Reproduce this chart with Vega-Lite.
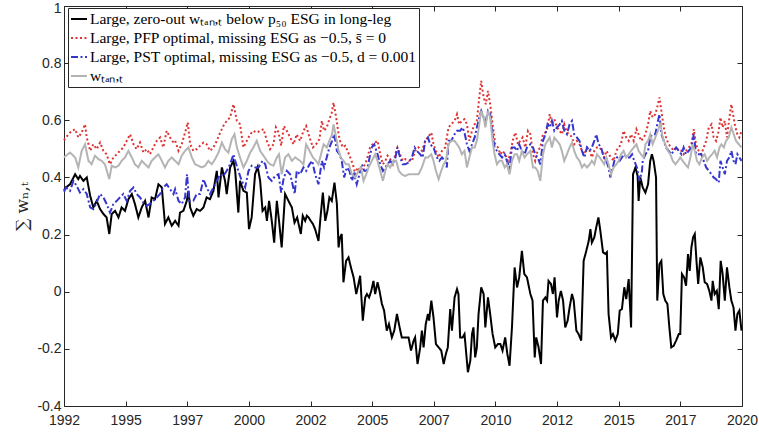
{
"$schema":"https://vega.github.io/schema/vega-lite/v6.json",
"width":678,"height":400,
"autosize":{"type":"none"},
"padding":{"left":64,"top":6,"right":17,"bottom":27},
"config":{"view":{"stroke":null},
"axis":{"domainColor":"#262626","tickColor":"#262626","labelColor":"#262626","labelFont":"Liberation Sans","labelFontSize":14,"grid":false,"tickSize":-5,"labelFlush":false,"labelOverlap":false},
"legend":{"orient":"none","legendX":4,"legendY":2,"title":null,"padding":2,"strokeColor":"#262626","fillColor":"white","symbolType":"stroke","symbolSize":256,"symbolStrokeWidth":2,"labelFont":"Liberation Serif","labelFontSize":15.5,"labelColor":"#000000","labelOffset":2,"rowPadding":1,"labelLimit":0}},
"data":{"values":[
{"s":"k","t":1992.00,"v":0.355},{"s":"k","t":1992.08,"v":0.365},{"s":"k","t":1992.25,"v":0.376},{"s":"k","t":1992.46,"v":0.411},{"s":"k","t":1992.59,"v":0.394},{"s":"k","t":1992.66,"v":0.405},{"s":"k","t":1992.80,"v":0.388},{"s":"k","t":1992.94,"v":0.400},{"s":"k","t":1993.08,"v":0.336},{"s":"k","t":1993.21,"v":0.295},{"s":"k","t":1993.35,"v":0.318},{"s":"k","t":1993.49,"v":0.289},{"s":"k","t":1993.63,"v":0.272},{"s":"k","t":1993.76,"v":0.260},{"s":"k","t":1993.87,"v":0.202},{"s":"k","t":1993.97,"v":0.272},{"s":"k","t":1994.11,"v":0.283},{"s":"k","t":1994.25,"v":0.260},{"s":"k","t":1994.38,"v":0.295},{"s":"k","t":1994.52,"v":0.283},{"s":"k","t":1994.66,"v":0.324},{"s":"k","t":1994.80,"v":0.342},{"s":"k","t":1994.93,"v":0.307},{"s":"k","t":1995.07,"v":0.260},{"s":"k","t":1995.21,"v":0.295},{"s":"k","t":1995.35,"v":0.318},{"s":"k","t":1995.49,"v":0.260},{"s":"k","t":1995.62,"v":0.330},{"s":"k","t":1995.76,"v":0.324},{"s":"k","t":1995.90,"v":0.376},{"s":"k","t":1996.04,"v":0.365},{"s":"k","t":1996.17,"v":0.237},{"s":"k","t":1996.31,"v":0.260},{"s":"k","t":1996.45,"v":0.231},{"s":"k","t":1996.59,"v":0.248},{"s":"k","t":1996.73,"v":0.231},{"s":"k","t":1996.79,"v":0.277},{"s":"k","t":1996.93,"v":0.283},{"s":"k","t":1997.07,"v":0.318},{"s":"k","t":1997.14,"v":0.353},{"s":"k","t":1997.21,"v":0.295},{"s":"k","t":1997.34,"v":0.266},{"s":"k","t":1997.48,"v":0.289},{"s":"k","t":1997.62,"v":0.283},{"s":"k","t":1997.76,"v":0.295},{"s":"k","t":1997.89,"v":0.330},{"s":"k","t":1998.03,"v":0.324},{"s":"k","t":1998.17,"v":0.353},{"s":"k","t":1998.31,"v":0.423},{"s":"k","t":1998.38,"v":0.330},{"s":"k","t":1998.52,"v":0.435},{"s":"k","t":1998.65,"v":0.388},{"s":"k","t":1998.72,"v":0.342},{"s":"k","t":1998.86,"v":0.435},{"s":"k","t":1999.00,"v":0.458},{"s":"k","t":1999.07,"v":0.423},{"s":"k","t":1999.20,"v":0.277},{"s":"k","t":1999.27,"v":0.388},{"s":"k","t":1999.41,"v":0.353},{"s":"k","t":1999.55,"v":0.347},{"s":"k","t":1999.64,"v":0.219},{"s":"k","t":1999.75,"v":0.260},{"s":"k","t":1999.89,"v":0.411},{"s":"k","t":2000.00,"v":0.437},{"s":"k","t":2000.10,"v":0.388},{"s":"k","t":2000.20,"v":0.283},{"s":"k","t":2000.31,"v":0.295},{"s":"k","t":2000.38,"v":0.248},{"s":"k","t":2000.47,"v":0.318},{"s":"k","t":2000.58,"v":0.248},{"s":"k","t":2000.68,"v":0.172},{"s":"k","t":2000.79,"v":0.318},{"s":"k","t":2000.88,"v":0.248},{"s":"k","t":2000.99,"v":0.155},{"s":"k","t":2001.13,"v":0.342},{"s":"k","t":2001.27,"v":0.318},{"s":"k","t":2001.41,"v":0.295},{"s":"k","t":2001.52,"v":0.242},{"s":"k","t":2001.63,"v":0.260},{"s":"k","t":2001.78,"v":0.202},{"s":"k","t":2001.86,"v":0.266},{"s":"k","t":2001.96,"v":0.248},{"s":"k","t":2002.03,"v":0.266},{"s":"k","t":2002.10,"v":0.260},{"s":"k","t":2002.19,"v":0.248},{"s":"k","t":2002.28,"v":0.237},{"s":"k","t":2002.37,"v":0.219},{"s":"k","t":2002.51,"v":0.178},{"s":"k","t":2002.58,"v":0.248},{"s":"k","t":2002.69,"v":0.347},{"s":"k","t":2002.79,"v":0.248},{"s":"k","t":2002.88,"v":0.283},{"s":"k","t":2002.96,"v":0.330},{"s":"k","t":2003.06,"v":0.318},{"s":"k","t":2003.17,"v":0.382},{"s":"k","t":2003.27,"v":0.307},{"s":"k","t":2003.34,"v":0.155},{"s":"k","t":2003.40,"v":0.190},{"s":"k","t":2003.47,"v":0.202},{"s":"k","t":2003.54,"v":0.033},{"s":"k","t":2003.65,"v":0.108},{"s":"k","t":2003.75,"v":0.120},{"s":"k","t":2003.85,"v":0.085},{"s":"k","t":2003.96,"v":0.050},{"s":"k","t":2004.07,"v":-0.008},{"s":"k","t":2004.16,"v":0.027},{"s":"k","t":2004.23,"v":0.056},{"s":"k","t":2004.34,"v":-0.101},{"s":"k","t":2004.44,"v":-0.020},{"s":"k","t":2004.51,"v":-0.008},{"s":"k","t":2004.60,"v":-0.020},{"s":"k","t":2004.69,"v":0.003},{"s":"k","t":2004.78,"v":0.038},{"s":"k","t":2004.85,"v":-0.008},{"s":"k","t":2004.95,"v":0.033},{"s":"k","t":2005.03,"v":0.003},{"s":"k","t":2005.13,"v":-0.043},{"s":"k","t":2005.22,"v":-0.066},{"s":"k","t":2005.33,"v":-0.136},{"s":"k","t":2005.42,"v":-0.113},{"s":"k","t":2005.54,"v":-0.160},{"s":"k","t":2005.64,"v":-0.136},{"s":"k","t":2005.75,"v":-0.078},{"s":"k","t":2005.86,"v":-0.125},{"s":"k","t":2005.95,"v":-0.160},{"s":"k","t":2006.09,"v":-0.160},{"s":"k","t":2006.23,"v":-0.160},{"s":"k","t":2006.33,"v":-0.206},{"s":"k","t":2006.44,"v":-0.171},{"s":"k","t":2006.50,"v":-0.160},{"s":"k","t":2006.60,"v":-0.253},{"s":"k","t":2006.71,"v":-0.195},{"s":"k","t":2006.78,"v":-0.136},{"s":"k","t":2006.85,"v":-0.195},{"s":"k","t":2006.94,"v":-0.113},{"s":"k","t":2007.03,"v":-0.078},{"s":"k","t":2007.08,"v":-0.101},{"s":"k","t":2007.17,"v":-0.031},{"s":"k","t":2007.26,"v":-0.090},{"s":"k","t":2007.36,"v":-0.183},{"s":"k","t":2007.47,"v":-0.195},{"s":"k","t":2007.58,"v":-0.206},{"s":"k","t":2007.68,"v":-0.253},{"s":"k","t":2007.77,"v":-0.218},{"s":"k","t":2007.85,"v":-0.195},{"s":"k","t":2007.95,"v":-0.061},{"s":"k","t":2008.02,"v":-0.136},{"s":"k","t":2008.13,"v":-0.020},{"s":"k","t":2008.23,"v":0.009},{"s":"k","t":2008.29,"v":-0.008},{"s":"k","t":2008.36,"v":-0.160},{"s":"k","t":2008.46,"v":-0.160},{"s":"k","t":2008.54,"v":-0.148},{"s":"k","t":2008.68,"v":-0.282},{"s":"k","t":2008.78,"v":-0.241},{"s":"k","t":2008.85,"v":-0.148},{"s":"k","t":2008.91,"v":-0.125},{"s":"k","t":2008.98,"v":-0.230},{"s":"k","t":2009.05,"v":-0.195},{"s":"k","t":2009.12,"v":-0.078},{"s":"k","t":2009.23,"v":0.015},{"s":"k","t":2009.33,"v":-0.008},{"s":"k","t":2009.40,"v":-0.125},{"s":"k","t":2009.51,"v":-0.020},{"s":"k","t":2009.60,"v":-0.078},{"s":"k","t":2009.70,"v":-0.148},{"s":"k","t":2009.81,"v":-0.195},{"s":"k","t":2009.92,"v":-0.183},{"s":"k","t":2010.02,"v":-0.183},{"s":"k","t":2010.11,"v":-0.206},{"s":"k","t":2010.22,"v":-0.160},{"s":"k","t":2010.31,"v":-0.218},{"s":"k","t":2010.40,"v":-0.259},{"s":"k","t":2010.50,"v":-0.125},{"s":"k","t":2010.61,"v":0.085},{"s":"k","t":2010.71,"v":0.015},{"s":"k","t":2010.80,"v":0.050},{"s":"k","t":2010.91,"v":0.143},{"s":"k","t":2011.01,"v":0.062},{"s":"k","t":2011.12,"v":0.050},{"s":"k","t":2011.26,"v":-0.008},{"s":"k","t":2011.35,"v":-0.031},{"s":"k","t":2011.44,"v":-0.230},{"s":"k","t":2011.50,"v":-0.160},{"s":"k","t":2011.60,"v":-0.195},{"s":"k","t":2011.70,"v":-0.253},{"s":"k","t":2011.78,"v":-0.031},{"s":"k","t":2011.88,"v":-0.020},{"s":"k","t":2011.95,"v":-0.031},{"s":"k","t":2012.01,"v":0.038},{"s":"k","t":2012.11,"v":0.027},{"s":"k","t":2012.19,"v":-0.008},{"s":"k","t":2012.26,"v":0.050},{"s":"k","t":2012.36,"v":-0.090},{"s":"k","t":2012.43,"v":-0.031},{"s":"k","t":2012.52,"v":0.003},{"s":"k","t":2012.61,"v":-0.031},{"s":"k","t":2012.70,"v":-0.125},{"s":"k","t":2012.80,"v":-0.101},{"s":"k","t":2012.88,"v":-0.055},{"s":"k","t":2012.98,"v":-0.008},{"s":"k","t":2013.05,"v":-0.031},{"s":"k","t":2013.16,"v":-0.136},{"s":"k","t":2013.25,"v":-0.148},{"s":"k","t":2013.36,"v":-0.171},{"s":"k","t":2013.46,"v":0.108},{"s":"k","t":2013.57,"v":0.143},{"s":"k","t":2013.67,"v":0.178},{"s":"k","t":2013.74,"v":0.219},{"s":"k","t":2013.80,"v":0.172},{"s":"k","t":2013.90,"v":0.190},{"s":"k","t":2013.98,"v":0.225},{"s":"k","t":2014.07,"v":0.260},{"s":"k","t":2014.15,"v":0.213},{"s":"k","t":2014.26,"v":0.138},{"s":"k","t":2014.36,"v":0.132},{"s":"k","t":2014.42,"v":0.138},{"s":"k","t":2014.49,"v":-0.078},{"s":"k","t":2014.59,"v":-0.160},{"s":"k","t":2014.67,"v":-0.148},{"s":"k","t":2014.77,"v":-0.171},{"s":"k","t":2014.87,"v":-0.148},{"s":"k","t":2014.95,"v":-0.066},{"s":"k","t":2015.04,"v":-0.061},{"s":"k","t":2015.14,"v":0.015},{"s":"k","t":2015.22,"v":-0.026},{"s":"k","t":2015.32,"v":0.044},{"s":"k","t":2015.42,"v":-0.125},{"s":"k","t":2015.50,"v":0.411},{"s":"k","t":2015.60,"v":0.435},{"s":"k","t":2015.69,"v":0.405},{"s":"k","t":2015.73,"v":0.318},{"s":"k","t":2015.80,"v":0.400},{"s":"k","t":2015.90,"v":0.365},{"s":"k","t":2016.01,"v":0.347},{"s":"k","t":2016.12,"v":0.376},{"s":"k","t":2016.21,"v":0.458},{"s":"k","t":2016.28,"v":0.481},{"s":"k","t":2016.35,"v":0.458},{"s":"k","t":2016.45,"v":0.400},{"s":"k","t":2016.50,"v":-0.031},{"s":"k","t":2016.59,"v":0.097},{"s":"k","t":2016.67,"v":0.108},{"s":"k","t":2016.75,"v":-0.008},{"s":"k","t":2016.83,"v":-0.031},{"s":"k","t":2016.92,"v":-0.043},{"s":"k","t":2017.00,"v":-0.125},{"s":"k","t":2017.08,"v":-0.195},{"s":"k","t":2017.18,"v":-0.189},{"s":"k","t":2017.28,"v":-0.171},{"s":"k","t":2017.39,"v":-0.148},{"s":"k","t":2017.45,"v":-0.148},{"s":"k","t":2017.52,"v":0.062},{"s":"k","t":2017.61,"v":0.050},{"s":"k","t":2017.69,"v":0.021},{"s":"k","t":2017.77,"v":0.132},{"s":"k","t":2017.84,"v":0.073},{"s":"k","t":2017.91,"v":0.155},{"s":"k","t":2017.98,"v":0.190},{"s":"k","t":2018.05,"v":0.202},{"s":"k","t":2018.12,"v":0.108},{"s":"k","t":2018.19,"v":0.027},{"s":"k","t":2018.28,"v":0.120},{"s":"k","t":2018.38,"v":0.085},{"s":"k","t":2018.46,"v":0.033},{"s":"k","t":2018.56,"v":0.027},{"s":"k","t":2018.65,"v":0.003},{"s":"k","t":2018.74,"v":-0.031},{"s":"k","t":2018.79,"v":0.038},{"s":"k","t":2018.87,"v":-0.008},{"s":"k","t":2018.96,"v":0.003},{"s":"k","t":2019.04,"v":-0.061},{"s":"k","t":2019.12,"v":0.108},{"s":"k","t":2019.20,"v":0.062},{"s":"k","t":2019.29,"v":-0.031},{"s":"k","t":2019.38,"v":0.085},{"s":"k","t":2019.48,"v":0.015},{"s":"k","t":2019.56,"v":-0.031},{"s":"k","t":2019.65,"v":-0.055},{"s":"k","t":2019.73,"v":-0.136},{"s":"k","t":2019.81,"v":-0.078},{"s":"k","t":2019.89,"v":-0.066},{"s":"k","t":2019.98,"v":-0.136},
{"s":"r","t":1992.00,"v":0.530},{"s":"r","t":1992.08,"v":0.540},{"s":"r","t":1992.25,"v":0.557},{"s":"r","t":1992.46,"v":0.569},{"s":"r","t":1992.59,"v":0.540},{"s":"r","t":1992.73,"v":0.557},{"s":"r","t":1992.87,"v":0.586},{"s":"r","t":1992.94,"v":0.540},{"s":"r","t":1993.08,"v":0.493},{"s":"r","t":1993.21,"v":0.516},{"s":"r","t":1993.35,"v":0.499},{"s":"r","t":1993.49,"v":0.522},{"s":"r","t":1993.63,"v":0.493},{"s":"r","t":1993.76,"v":0.481},{"s":"r","t":1993.90,"v":0.446},{"s":"r","t":1994.04,"v":0.470},{"s":"r","t":1994.18,"v":0.481},{"s":"r","t":1994.31,"v":0.493},{"s":"r","t":1994.45,"v":0.505},{"s":"r","t":1994.59,"v":0.528},{"s":"r","t":1994.73,"v":0.551},{"s":"r","t":1994.87,"v":0.516},{"s":"r","t":1995.00,"v":0.499},{"s":"r","t":1995.14,"v":0.522},{"s":"r","t":1995.28,"v":0.487},{"s":"r","t":1995.42,"v":0.499},{"s":"r","t":1995.55,"v":0.481},{"s":"r","t":1995.69,"v":0.505},{"s":"r","t":1995.83,"v":0.528},{"s":"r","t":1995.97,"v":0.540},{"s":"r","t":1996.10,"v":0.505},{"s":"r","t":1996.24,"v":0.563},{"s":"r","t":1996.38,"v":0.540},{"s":"r","t":1996.52,"v":0.522},{"s":"r","t":1996.59,"v":0.528},{"s":"r","t":1996.73,"v":0.493},{"s":"r","t":1996.86,"v":0.516},{"s":"r","t":1997.00,"v":0.557},{"s":"r","t":1997.11,"v":0.592},{"s":"r","t":1997.21,"v":0.516},{"s":"r","t":1997.34,"v":0.493},{"s":"r","t":1997.48,"v":0.499},{"s":"r","t":1997.62,"v":0.511},{"s":"r","t":1997.76,"v":0.522},{"s":"r","t":1997.89,"v":0.516},{"s":"r","t":1998.03,"v":0.493},{"s":"r","t":1998.17,"v":0.505},{"s":"r","t":1998.31,"v":0.528},{"s":"r","t":1998.45,"v":0.557},{"s":"r","t":1998.58,"v":0.580},{"s":"r","t":1998.72,"v":0.598},{"s":"r","t":1998.86,"v":0.610},{"s":"r","t":1999.00,"v":0.656},{"s":"r","t":1999.14,"v":0.598},{"s":"r","t":1999.27,"v":0.586},{"s":"r","t":1999.41,"v":0.505},{"s":"r","t":1999.55,"v":0.528},{"s":"r","t":1999.69,"v":0.551},{"s":"r","t":1999.82,"v":0.563},{"s":"r","t":1999.96,"v":0.557},{"s":"r","t":2000.10,"v":0.563},{"s":"r","t":2000.24,"v":0.569},{"s":"r","t":2000.38,"v":0.528},{"s":"r","t":2000.51,"v":0.499},{"s":"r","t":2000.65,"v":0.516},{"s":"r","t":2000.75,"v":0.575},{"s":"r","t":2000.86,"v":0.557},{"s":"r","t":2000.97,"v":0.511},{"s":"r","t":2001.08,"v":0.580},{"s":"r","t":2001.20,"v":0.563},{"s":"r","t":2001.34,"v":0.540},{"s":"r","t":2001.48,"v":0.516},{"s":"r","t":2001.61,"v":0.551},{"s":"r","t":2001.75,"v":0.528},{"s":"r","t":2001.89,"v":0.563},{"s":"r","t":2002.00,"v":0.580},{"s":"r","t":2002.14,"v":0.540},{"s":"r","t":2002.28,"v":0.505},{"s":"r","t":2002.41,"v":0.516},{"s":"r","t":2002.55,"v":0.534},{"s":"r","t":2002.65,"v":0.598},{"s":"r","t":2002.74,"v":0.563},{"s":"r","t":2002.85,"v":0.575},{"s":"r","t":2002.96,"v":0.604},{"s":"r","t":2003.06,"v":0.627},{"s":"r","t":2003.13,"v":0.662},{"s":"r","t":2003.24,"v":0.610},{"s":"r","t":2003.34,"v":0.551},{"s":"r","t":2003.40,"v":0.528},{"s":"r","t":2003.52,"v":0.505},{"s":"r","t":2003.61,"v":0.511},{"s":"r","t":2003.71,"v":0.493},{"s":"r","t":2003.82,"v":0.470},{"s":"r","t":2003.93,"v":0.446},{"s":"r","t":2004.03,"v":0.411},{"s":"r","t":2004.12,"v":0.435},{"s":"r","t":2004.23,"v":0.423},{"s":"r","t":2004.34,"v":0.435},{"s":"r","t":2004.44,"v":0.446},{"s":"r","t":2004.53,"v":0.470},{"s":"r","t":2004.64,"v":0.505},{"s":"r","t":2004.75,"v":0.516},{"s":"r","t":2004.85,"v":0.522},{"s":"r","t":2004.95,"v":0.528},{"s":"r","t":2005.06,"v":0.481},{"s":"r","t":2005.17,"v":0.446},{"s":"r","t":2005.27,"v":0.458},{"s":"r","t":2005.36,"v":0.476},{"s":"r","t":2005.47,"v":0.464},{"s":"r","t":2005.58,"v":0.446},{"s":"r","t":2005.68,"v":0.481},{"s":"r","t":2005.77,"v":0.505},{"s":"r","t":2005.88,"v":0.481},{"s":"r","t":2005.99,"v":0.458},{"s":"r","t":2006.09,"v":0.464},{"s":"r","t":2006.23,"v":0.458},{"s":"r","t":2006.37,"v":0.458},{"s":"r","t":2006.50,"v":0.493},{"s":"r","t":2006.64,"v":0.505},{"s":"r","t":2006.78,"v":0.493},{"s":"r","t":2006.92,"v":0.528},{"s":"r","t":2007.03,"v":0.540},{"s":"r","t":2007.17,"v":0.557},{"s":"r","t":2007.26,"v":0.516},{"s":"r","t":2007.36,"v":0.493},{"s":"r","t":2007.47,"v":0.470},{"s":"r","t":2007.61,"v":0.493},{"s":"r","t":2007.74,"v":0.505},{"s":"r","t":2007.88,"v":0.575},{"s":"r","t":2007.99,"v":0.586},{"s":"r","t":2008.13,"v":0.598},{"s":"r","t":2008.23,"v":0.621},{"s":"r","t":2008.32,"v":0.586},{"s":"r","t":2008.43,"v":0.598},{"s":"r","t":2008.54,"v":0.604},{"s":"r","t":2008.64,"v":0.586},{"s":"r","t":2008.74,"v":0.528},{"s":"r","t":2008.85,"v":0.563},{"s":"r","t":2008.96,"v":0.586},{"s":"r","t":2009.05,"v":0.598},{"s":"r","t":2009.15,"v":0.680},{"s":"r","t":2009.23,"v":0.738},{"s":"r","t":2009.33,"v":0.680},{"s":"r","t":2009.42,"v":0.656},{"s":"r","t":2009.51,"v":0.703},{"s":"r","t":2009.60,"v":0.656},{"s":"r","t":2009.70,"v":0.586},{"s":"r","t":2009.81,"v":0.516},{"s":"r","t":2009.92,"v":0.505},{"s":"r","t":2010.02,"v":0.481},{"s":"r","t":2010.11,"v":0.493},{"s":"r","t":2010.22,"v":0.481},{"s":"r","t":2010.33,"v":0.458},{"s":"r","t":2010.43,"v":0.481},{"s":"r","t":2010.53,"v":0.528},{"s":"r","t":2010.64,"v":0.557},{"s":"r","t":2010.75,"v":0.516},{"s":"r","t":2010.84,"v":0.528},{"s":"r","t":2010.94,"v":0.540},{"s":"r","t":2011.05,"v":0.505},{"s":"r","t":2011.16,"v":0.563},{"s":"r","t":2011.26,"v":0.551},{"s":"r","t":2011.37,"v":0.481},{"s":"r","t":2011.46,"v":0.458},{"s":"r","t":2011.56,"v":0.493},{"s":"r","t":2011.67,"v":0.505},{"s":"r","t":2011.78,"v":0.551},{"s":"r","t":2011.88,"v":0.557},{"s":"r","t":2011.97,"v":0.575},{"s":"r","t":2012.06,"v":0.621},{"s":"r","t":2012.15,"v":0.586},{"s":"r","t":2012.25,"v":0.604},{"s":"r","t":2012.36,"v":0.575},{"s":"r","t":2012.47,"v":0.563},{"s":"r","t":2012.56,"v":0.551},{"s":"r","t":2012.66,"v":0.586},{"s":"r","t":2012.77,"v":0.557},{"s":"r","t":2012.88,"v":0.551},{"s":"r","t":2012.98,"v":0.540},{"s":"r","t":2013.07,"v":0.516},{"s":"r","t":2013.18,"v":0.528},{"s":"r","t":2013.29,"v":0.516},{"s":"r","t":2013.39,"v":0.493},{"s":"r","t":2013.49,"v":0.481},{"s":"r","t":2013.60,"v":0.505},{"s":"r","t":2013.71,"v":0.493},{"s":"r","t":2013.80,"v":0.470},{"s":"r","t":2013.90,"v":0.493},{"s":"r","t":2014.01,"v":0.505},{"s":"r","t":2014.12,"v":0.505},{"s":"r","t":2014.22,"v":0.493},{"s":"r","t":2014.31,"v":0.470},{"s":"r","t":2014.40,"v":0.493},{"s":"r","t":2014.49,"v":0.481},{"s":"r","t":2014.59,"v":0.470},{"s":"r","t":2014.70,"v":0.458},{"s":"r","t":2014.81,"v":0.493},{"s":"r","t":2014.91,"v":0.505},{"s":"r","t":2015.00,"v":0.516},{"s":"r","t":2015.11,"v":0.563},{"s":"r","t":2015.22,"v":0.540},{"s":"r","t":2015.32,"v":0.528},{"s":"r","t":2015.42,"v":0.551},{"s":"r","t":2015.53,"v":0.528},{"s":"r","t":2015.64,"v":0.569},{"s":"r","t":2015.73,"v":0.551},{"s":"r","t":2015.83,"v":0.528},{"s":"r","t":2015.94,"v":0.540},{"s":"r","t":2016.01,"v":0.551},{"s":"r","t":2016.12,"v":0.586},{"s":"r","t":2016.21,"v":0.633},{"s":"r","t":2016.31,"v":0.610},{"s":"r","t":2016.42,"v":0.621},{"s":"r","t":2016.53,"v":0.656},{"s":"r","t":2016.59,"v":0.680},{"s":"r","t":2016.67,"v":0.633},{"s":"r","t":2016.77,"v":0.575},{"s":"r","t":2016.86,"v":0.540},{"s":"r","t":2016.97,"v":0.516},{"s":"r","t":2017.08,"v":0.505},{"s":"r","t":2017.18,"v":0.493},{"s":"r","t":2017.28,"v":0.505},{"s":"r","t":2017.39,"v":0.493},{"s":"r","t":2017.50,"v":0.493},{"s":"r","t":2017.59,"v":0.481},{"s":"r","t":2017.69,"v":0.493},{"s":"r","t":2017.80,"v":0.505},{"s":"r","t":2017.91,"v":0.516},{"s":"r","t":2018.01,"v":0.569},{"s":"r","t":2018.10,"v":0.516},{"s":"r","t":2018.21,"v":0.493},{"s":"r","t":2018.32,"v":0.481},{"s":"r","t":2018.42,"v":0.505},{"s":"r","t":2018.52,"v":0.528},{"s":"r","t":2018.63,"v":0.575},{"s":"r","t":2018.74,"v":0.586},{"s":"r","t":2018.83,"v":0.540},{"s":"r","t":2018.93,"v":0.528},{"s":"r","t":2019.04,"v":0.563},{"s":"r","t":2019.11,"v":0.610},{"s":"r","t":2019.20,"v":0.575},{"s":"r","t":2019.29,"v":0.598},{"s":"r","t":2019.38,"v":0.540},{"s":"r","t":2019.48,"v":0.610},{"s":"r","t":2019.56,"v":0.656},{"s":"r","t":2019.65,"v":0.610},{"s":"r","t":2019.73,"v":0.575},{"s":"r","t":2019.81,"v":0.551},{"s":"r","t":2019.89,"v":0.540},{"s":"r","t":2019.98,"v":0.563},
{"s":"b","t":1992.00,"v":0.350},{"s":"b","t":1992.08,"v":0.365},{"s":"b","t":1992.25,"v":0.353},{"s":"b","t":1992.39,"v":0.388},{"s":"b","t":1992.52,"v":0.371},{"s":"b","t":1992.66,"v":0.347},{"s":"b","t":1992.80,"v":0.359},{"s":"b","t":1992.94,"v":0.342},{"s":"b","t":1993.08,"v":0.295},{"s":"b","t":1993.21,"v":0.289},{"s":"b","t":1993.35,"v":0.312},{"s":"b","t":1993.49,"v":0.342},{"s":"b","t":1993.63,"v":0.330},{"s":"b","t":1993.76,"v":0.307},{"s":"b","t":1993.90,"v":0.277},{"s":"b","t":1994.04,"v":0.307},{"s":"b","t":1994.18,"v":0.318},{"s":"b","t":1994.31,"v":0.330},{"s":"b","t":1994.45,"v":0.342},{"s":"b","t":1994.59,"v":0.318},{"s":"b","t":1994.73,"v":0.353},{"s":"b","t":1994.87,"v":0.365},{"s":"b","t":1995.00,"v":0.342},{"s":"b","t":1995.14,"v":0.330},{"s":"b","t":1995.28,"v":0.312},{"s":"b","t":1995.42,"v":0.301},{"s":"b","t":1995.55,"v":0.307},{"s":"b","t":1995.69,"v":0.318},{"s":"b","t":1995.83,"v":0.330},{"s":"b","t":1995.97,"v":0.342},{"s":"b","t":1996.10,"v":0.365},{"s":"b","t":1996.24,"v":0.376},{"s":"b","t":1996.38,"v":0.359},{"s":"b","t":1996.52,"v":0.342},{"s":"b","t":1996.59,"v":0.359},{"s":"b","t":1996.73,"v":0.318},{"s":"b","t":1996.86,"v":0.307},{"s":"b","t":1997.00,"v":0.330},{"s":"b","t":1997.08,"v":0.411},{"s":"b","t":1997.17,"v":0.318},{"s":"b","t":1997.34,"v":0.318},{"s":"b","t":1997.48,"v":0.342},{"s":"b","t":1997.62,"v":0.342},{"s":"b","t":1997.76,"v":0.394},{"s":"b","t":1997.89,"v":0.365},{"s":"b","t":1998.03,"v":0.342},{"s":"b","t":1998.17,"v":0.365},{"s":"b","t":1998.31,"v":0.388},{"s":"b","t":1998.45,"v":0.411},{"s":"b","t":1998.58,"v":0.405},{"s":"b","t":1998.72,"v":0.423},{"s":"b","t":1998.86,"v":0.446},{"s":"b","t":1999.00,"v":0.481},{"s":"b","t":1999.07,"v":0.458},{"s":"b","t":1999.20,"v":0.423},{"s":"b","t":1999.34,"v":0.388},{"s":"b","t":1999.48,"v":0.365},{"s":"b","t":1999.62,"v":0.423},{"s":"b","t":1999.75,"v":0.441},{"s":"b","t":1999.89,"v":0.435},{"s":"b","t":2000.03,"v":0.435},{"s":"b","t":2000.20,"v":0.458},{"s":"b","t":2000.31,"v":0.446},{"s":"b","t":2000.44,"v":0.400},{"s":"b","t":2000.58,"v":0.388},{"s":"b","t":2000.72,"v":0.405},{"s":"b","t":2000.86,"v":0.411},{"s":"b","t":2000.97,"v":0.347},{"s":"b","t":2001.08,"v":0.400},{"s":"b","t":2001.20,"v":0.423},{"s":"b","t":2001.34,"v":0.411},{"s":"b","t":2001.53,"v":0.342},{"s":"b","t":2001.61,"v":0.423},{"s":"b","t":2001.75,"v":0.411},{"s":"b","t":2001.89,"v":0.435},{"s":"b","t":2002.00,"v":0.423},{"s":"b","t":2002.14,"v":0.446},{"s":"b","t":2002.25,"v":0.458},{"s":"b","t":2002.37,"v":0.411},{"s":"b","t":2002.51,"v":0.376},{"s":"b","t":2002.65,"v":0.458},{"s":"b","t":2002.74,"v":0.435},{"s":"b","t":2002.85,"v":0.470},{"s":"b","t":2002.96,"v":0.505},{"s":"b","t":2003.07,"v":0.528},{"s":"b","t":2003.16,"v":0.551},{"s":"b","t":2003.27,"v":0.493},{"s":"b","t":2003.38,"v":0.481},{"s":"b","t":2003.47,"v":0.458},{"s":"b","t":2003.57,"v":0.400},{"s":"b","t":2003.68,"v":0.435},{"s":"b","t":2003.79,"v":0.423},{"s":"b","t":2003.89,"v":0.388},{"s":"b","t":2003.98,"v":0.411},{"s":"b","t":2004.09,"v":0.376},{"s":"b","t":2004.20,"v":0.411},{"s":"b","t":2004.30,"v":0.446},{"s":"b","t":2004.40,"v":0.423},{"s":"b","t":2004.51,"v":0.423},{"s":"b","t":2004.62,"v":0.470},{"s":"b","t":2004.71,"v":0.505},{"s":"b","t":2004.81,"v":0.516},{"s":"b","t":2004.95,"v":0.481},{"s":"b","t":2005.06,"v":0.446},{"s":"b","t":2005.17,"v":0.423},{"s":"b","t":2005.27,"v":0.435},{"s":"b","t":2005.36,"v":0.446},{"s":"b","t":2005.47,"v":0.458},{"s":"b","t":2005.58,"v":0.446},{"s":"b","t":2005.69,"v":0.470},{"s":"b","t":2005.77,"v":0.505},{"s":"b","t":2005.88,"v":0.470},{"s":"b","t":2005.99,"v":0.446},{"s":"b","t":2006.09,"v":0.446},{"s":"b","t":2006.23,"v":0.452},{"s":"b","t":2006.37,"v":0.470},{"s":"b","t":2006.48,"v":0.505},{"s":"b","t":2006.57,"v":0.493},{"s":"b","t":2006.71,"v":0.481},{"s":"b","t":2006.81,"v":0.470},{"s":"b","t":2006.92,"v":0.528},{"s":"b","t":2007.03,"v":0.540},{"s":"b","t":2007.12,"v":0.516},{"s":"b","t":2007.26,"v":0.505},{"s":"b","t":2007.40,"v":0.470},{"s":"b","t":2007.50,"v":0.458},{"s":"b","t":2007.61,"v":0.470},{"s":"b","t":2007.72,"v":0.458},{"s":"b","t":2007.81,"v":0.435},{"s":"b","t":2007.88,"v":0.528},{"s":"b","t":2007.99,"v":0.528},{"s":"b","t":2008.13,"v":0.551},{"s":"b","t":2008.23,"v":0.563},{"s":"b","t":2008.36,"v":0.563},{"s":"b","t":2008.46,"v":0.575},{"s":"b","t":2008.54,"v":0.557},{"s":"b","t":2008.64,"v":0.516},{"s":"b","t":2008.74,"v":0.493},{"s":"b","t":2008.85,"v":0.516},{"s":"b","t":2008.96,"v":0.540},{"s":"b","t":2009.05,"v":0.575},{"s":"b","t":2009.15,"v":0.610},{"s":"b","t":2009.23,"v":0.633},{"s":"b","t":2009.33,"v":0.610},{"s":"b","t":2009.42,"v":0.598},{"s":"b","t":2009.51,"v":0.633},{"s":"b","t":2009.60,"v":0.621},{"s":"b","t":2009.70,"v":0.551},{"s":"b","t":2009.78,"v":0.505},{"s":"b","t":2009.88,"v":0.493},{"s":"b","t":2009.98,"v":0.481},{"s":"b","t":2010.09,"v":0.470},{"s":"b","t":2010.20,"v":0.481},{"s":"b","t":2010.29,"v":0.458},{"s":"b","t":2010.40,"v":0.435},{"s":"b","t":2010.50,"v":0.505},{"s":"b","t":2010.61,"v":0.505},{"s":"b","t":2010.71,"v":0.493},{"s":"b","t":2010.80,"v":0.516},{"s":"b","t":2010.91,"v":0.493},{"s":"b","t":2011.02,"v":0.481},{"s":"b","t":2011.12,"v":0.505},{"s":"b","t":2011.26,"v":0.516},{"s":"b","t":2011.37,"v":0.505},{"s":"b","t":2011.46,"v":0.481},{"s":"b","t":2011.56,"v":0.470},{"s":"b","t":2011.67,"v":0.446},{"s":"b","t":2011.78,"v":0.528},{"s":"b","t":2011.88,"v":0.551},{"s":"b","t":2011.97,"v":0.586},{"s":"b","t":2012.06,"v":0.575},{"s":"b","t":2012.15,"v":0.598},{"s":"b","t":2012.25,"v":0.563},{"s":"b","t":2012.36,"v":0.575},{"s":"b","t":2012.47,"v":0.586},{"s":"b","t":2012.56,"v":0.598},{"s":"b","t":2012.66,"v":0.563},{"s":"b","t":2012.77,"v":0.551},{"s":"b","t":2012.88,"v":0.586},{"s":"b","t":2012.98,"v":0.598},{"s":"b","t":2013.07,"v":0.551},{"s":"b","t":2013.18,"v":0.540},{"s":"b","t":2013.29,"v":0.528},{"s":"b","t":2013.39,"v":0.493},{"s":"b","t":2013.49,"v":0.470},{"s":"b","t":2013.60,"v":0.505},{"s":"b","t":2013.71,"v":0.493},{"s":"b","t":2013.80,"v":0.505},{"s":"b","t":2013.90,"v":0.528},{"s":"b","t":2013.98,"v":0.551},{"s":"b","t":2014.08,"v":0.516},{"s":"b","t":2014.18,"v":0.505},{"s":"b","t":2014.29,"v":0.470},{"s":"b","t":2014.40,"v":0.458},{"s":"b","t":2014.49,"v":0.435},{"s":"b","t":2014.56,"v":0.400},{"s":"b","t":2014.63,"v":0.423},{"s":"b","t":2014.73,"v":0.458},{"s":"b","t":2014.84,"v":0.470},{"s":"b","t":2014.95,"v":0.458},{"s":"b","t":2015.04,"v":0.470},{"s":"b","t":2015.14,"v":0.481},{"s":"b","t":2015.25,"v":0.470},{"s":"b","t":2015.36,"v":0.470},{"s":"b","t":2015.46,"v":0.481},{"s":"b","t":2015.55,"v":0.458},{"s":"b","t":2015.66,"v":0.435},{"s":"b","t":2015.77,"v":0.388},{"s":"b","t":2015.87,"v":0.423},{"s":"b","t":2015.90,"v":0.458},{"s":"b","t":2016.01,"v":0.481},{"s":"b","t":2016.12,"v":0.493},{"s":"b","t":2016.21,"v":0.540},{"s":"b","t":2016.31,"v":0.551},{"s":"b","t":2016.42,"v":0.551},{"s":"b","t":2016.53,"v":0.598},{"s":"b","t":2016.59,"v":0.621},{"s":"b","t":2016.67,"v":0.551},{"s":"b","t":2016.77,"v":0.528},{"s":"b","t":2016.86,"v":0.505},{"s":"b","t":2016.97,"v":0.493},{"s":"b","t":2017.08,"v":0.481},{"s":"b","t":2017.18,"v":0.493},{"s":"b","t":2017.28,"v":0.505},{"s":"b","t":2017.39,"v":0.493},{"s":"b","t":2017.50,"v":0.481},{"s":"b","t":2017.59,"v":0.505},{"s":"b","t":2017.69,"v":0.481},{"s":"b","t":2017.80,"v":0.493},{"s":"b","t":2017.91,"v":0.505},{"s":"b","t":2018.01,"v":0.551},{"s":"b","t":2018.10,"v":0.481},{"s":"b","t":2018.21,"v":0.481},{"s":"b","t":2018.32,"v":0.481},{"s":"b","t":2018.42,"v":0.458},{"s":"b","t":2018.52,"v":0.435},{"s":"b","t":2018.63,"v":0.423},{"s":"b","t":2018.74,"v":0.411},{"s":"b","t":2018.83,"v":0.400},{"s":"b","t":2018.93,"v":0.394},{"s":"b","t":2019.04,"v":0.382},{"s":"b","t":2019.11,"v":0.458},{"s":"b","t":2019.20,"v":0.435},{"s":"b","t":2019.29,"v":0.411},{"s":"b","t":2019.38,"v":0.458},{"s":"b","t":2019.48,"v":0.470},{"s":"b","t":2019.56,"v":0.493},{"s":"b","t":2019.65,"v":0.458},{"s":"b","t":2019.73,"v":0.446},{"s":"b","t":2019.81,"v":0.481},{"s":"b","t":2019.89,"v":0.470},{"s":"b","t":2019.98,"v":0.458},
{"s":"g","t":1992.00,"v":0.470},{"s":"g","t":1992.08,"v":0.476},{"s":"g","t":1992.25,"v":0.487},{"s":"g","t":1992.46,"v":0.470},{"s":"g","t":1992.59,"v":0.435},{"s":"g","t":1992.73,"v":0.493},{"s":"g","t":1992.87,"v":0.516},{"s":"g","t":1993.01,"v":0.458},{"s":"g","t":1993.14,"v":0.446},{"s":"g","t":1993.28,"v":0.476},{"s":"g","t":1993.42,"v":0.464},{"s":"g","t":1993.56,"v":0.458},{"s":"g","t":1993.69,"v":0.446},{"s":"g","t":1993.87,"v":0.394},{"s":"g","t":1993.97,"v":0.441},{"s":"g","t":1994.11,"v":0.435},{"s":"g","t":1994.25,"v":0.441},{"s":"g","t":1994.38,"v":0.458},{"s":"g","t":1994.52,"v":0.470},{"s":"g","t":1994.66,"v":0.493},{"s":"g","t":1994.80,"v":0.470},{"s":"g","t":1994.93,"v":0.446},{"s":"g","t":1995.07,"v":0.435},{"s":"g","t":1995.21,"v":0.458},{"s":"g","t":1995.35,"v":0.446},{"s":"g","t":1995.49,"v":0.435},{"s":"g","t":1995.62,"v":0.458},{"s":"g","t":1995.76,"v":0.470},{"s":"g","t":1995.90,"v":0.481},{"s":"g","t":1996.04,"v":0.458},{"s":"g","t":1996.17,"v":0.435},{"s":"g","t":1996.31,"v":0.458},{"s":"g","t":1996.45,"v":0.470},{"s":"g","t":1996.59,"v":0.458},{"s":"g","t":1996.73,"v":0.446},{"s":"g","t":1996.86,"v":0.476},{"s":"g","t":1997.00,"v":0.493},{"s":"g","t":1997.14,"v":0.505},{"s":"g","t":1997.28,"v":0.470},{"s":"g","t":1997.41,"v":0.446},{"s":"g","t":1997.55,"v":0.441},{"s":"g","t":1997.69,"v":0.435},{"s":"g","t":1997.83,"v":0.441},{"s":"g","t":1997.96,"v":0.458},{"s":"g","t":1998.10,"v":0.446},{"s":"g","t":1998.24,"v":0.464},{"s":"g","t":1998.38,"v":0.487},{"s":"g","t":1998.52,"v":0.522},{"s":"g","t":1998.65,"v":0.499},{"s":"g","t":1998.79,"v":0.487},{"s":"g","t":1998.93,"v":0.534},{"s":"g","t":1999.04,"v":0.551},{"s":"g","t":1999.14,"v":0.505},{"s":"g","t":1999.27,"v":0.470},{"s":"g","t":1999.41,"v":0.435},{"s":"g","t":1999.55,"v":0.458},{"s":"g","t":1999.69,"v":0.487},{"s":"g","t":1999.82,"v":0.505},{"s":"g","t":1999.96,"v":0.528},{"s":"g","t":2000.10,"v":0.493},{"s":"g","t":2000.24,"v":0.476},{"s":"g","t":2000.38,"v":0.458},{"s":"g","t":2000.51,"v":0.446},{"s":"g","t":2000.65,"v":0.441},{"s":"g","t":2000.79,"v":0.470},{"s":"g","t":2000.88,"v":0.481},{"s":"g","t":2000.99,"v":0.411},{"s":"g","t":2001.13,"v":0.470},{"s":"g","t":2001.27,"v":0.481},{"s":"g","t":2001.41,"v":0.458},{"s":"g","t":2001.55,"v":0.470},{"s":"g","t":2001.75,"v":0.458},{"s":"g","t":2001.89,"v":0.446},{"s":"g","t":2002.00,"v":0.516},{"s":"g","t":2002.14,"v":0.493},{"s":"g","t":2002.28,"v":0.470},{"s":"g","t":2002.41,"v":0.458},{"s":"g","t":2002.51,"v":0.446},{"s":"g","t":2002.65,"v":0.493},{"s":"g","t":2002.72,"v":0.516},{"s":"g","t":2002.85,"v":0.505},{"s":"g","t":2002.96,"v":0.528},{"s":"g","t":2003.07,"v":0.551},{"s":"g","t":2003.13,"v":0.586},{"s":"g","t":2003.24,"v":0.540},{"s":"g","t":2003.34,"v":0.493},{"s":"g","t":2003.43,"v":0.470},{"s":"g","t":2003.54,"v":0.458},{"s":"g","t":2003.65,"v":0.446},{"s":"g","t":2003.76,"v":0.446},{"s":"g","t":2003.89,"v":0.411},{"s":"g","t":2004.03,"v":0.400},{"s":"g","t":2004.16,"v":0.423},{"s":"g","t":2004.26,"v":0.435},{"s":"g","t":2004.37,"v":0.388},{"s":"g","t":2004.48,"v":0.411},{"s":"g","t":2004.58,"v":0.435},{"s":"g","t":2004.71,"v":0.458},{"s":"g","t":2004.85,"v":0.481},{"s":"g","t":2004.95,"v":0.458},{"s":"g","t":2005.06,"v":0.423},{"s":"g","t":2005.17,"v":0.388},{"s":"g","t":2005.27,"v":0.423},{"s":"g","t":2005.36,"v":0.446},{"s":"g","t":2005.47,"v":0.435},{"s":"g","t":2005.61,"v":0.458},{"s":"g","t":2005.72,"v":0.458},{"s":"g","t":2005.83,"v":0.423},{"s":"g","t":2005.95,"v":0.411},{"s":"g","t":2006.09,"v":0.405},{"s":"g","t":2006.23,"v":0.411},{"s":"g","t":2006.37,"v":0.411},{"s":"g","t":2006.50,"v":0.411},{"s":"g","t":2006.64,"v":0.411},{"s":"g","t":2006.78,"v":0.435},{"s":"g","t":2006.92,"v":0.470},{"s":"g","t":2007.03,"v":0.470},{"s":"g","t":2007.17,"v":0.481},{"s":"g","t":2007.26,"v":0.458},{"s":"g","t":2007.36,"v":0.423},{"s":"g","t":2007.47,"v":0.394},{"s":"g","t":2007.58,"v":0.423},{"s":"g","t":2007.68,"v":0.446},{"s":"g","t":2007.77,"v":0.458},{"s":"g","t":2007.88,"v":0.516},{"s":"g","t":2007.99,"v":0.528},{"s":"g","t":2008.13,"v":0.528},{"s":"g","t":2008.23,"v":0.516},{"s":"g","t":2008.32,"v":0.505},{"s":"g","t":2008.43,"v":0.481},{"s":"g","t":2008.54,"v":0.493},{"s":"g","t":2008.64,"v":0.435},{"s":"g","t":2008.74,"v":0.470},{"s":"g","t":2008.85,"v":0.505},{"s":"g","t":2008.96,"v":0.505},{"s":"g","t":2009.05,"v":0.528},{"s":"g","t":2009.15,"v":0.586},{"s":"g","t":2009.23,"v":0.633},{"s":"g","t":2009.33,"v":0.610},{"s":"g","t":2009.40,"v":0.575},{"s":"g","t":2009.51,"v":0.633},{"s":"g","t":2009.60,"v":0.610},{"s":"g","t":2009.70,"v":0.528},{"s":"g","t":2009.78,"v":0.481},{"s":"g","t":2009.88,"v":0.446},{"s":"g","t":2009.98,"v":0.458},{"s":"g","t":2010.09,"v":0.458},{"s":"g","t":2010.20,"v":0.435},{"s":"g","t":2010.29,"v":0.446},{"s":"g","t":2010.40,"v":0.411},{"s":"g","t":2010.50,"v":0.458},{"s":"g","t":2010.61,"v":0.481},{"s":"g","t":2010.71,"v":0.481},{"s":"g","t":2010.80,"v":0.458},{"s":"g","t":2010.91,"v":0.493},{"s":"g","t":2011.02,"v":0.470},{"s":"g","t":2011.12,"v":0.481},{"s":"g","t":2011.26,"v":0.493},{"s":"g","t":2011.37,"v":0.435},{"s":"g","t":2011.46,"v":0.435},{"s":"g","t":2011.56,"v":0.423},{"s":"g","t":2011.67,"v":0.388},{"s":"g","t":2011.78,"v":0.481},{"s":"g","t":2011.88,"v":0.516},{"s":"g","t":2011.97,"v":0.528},{"s":"g","t":2012.06,"v":0.540},{"s":"g","t":2012.15,"v":0.505},{"s":"g","t":2012.25,"v":0.540},{"s":"g","t":2012.36,"v":0.528},{"s":"g","t":2012.47,"v":0.516},{"s":"g","t":2012.56,"v":0.493},{"s":"g","t":2012.66,"v":0.458},{"s":"g","t":2012.77,"v":0.481},{"s":"g","t":2012.88,"v":0.505},{"s":"g","t":2012.98,"v":0.522},{"s":"g","t":2013.07,"v":0.493},{"s":"g","t":2013.18,"v":0.470},{"s":"g","t":2013.29,"v":0.458},{"s":"g","t":2013.39,"v":0.435},{"s":"g","t":2013.49,"v":0.446},{"s":"g","t":2013.60,"v":0.435},{"s":"g","t":2013.71,"v":0.446},{"s":"g","t":2013.80,"v":0.458},{"s":"g","t":2013.90,"v":0.446},{"s":"g","t":2014.01,"v":0.481},{"s":"g","t":2014.12,"v":0.470},{"s":"g","t":2014.22,"v":0.458},{"s":"g","t":2014.31,"v":0.446},{"s":"g","t":2014.40,"v":0.470},{"s":"g","t":2014.49,"v":0.446},{"s":"g","t":2014.59,"v":0.411},{"s":"g","t":2014.70,"v":0.435},{"s":"g","t":2014.81,"v":0.446},{"s":"g","t":2014.91,"v":0.458},{"s":"g","t":2015.00,"v":0.481},{"s":"g","t":2015.11,"v":0.493},{"s":"g","t":2015.22,"v":0.470},{"s":"g","t":2015.32,"v":0.481},{"s":"g","t":2015.42,"v":0.493},{"s":"g","t":2015.53,"v":0.505},{"s":"g","t":2015.64,"v":0.516},{"s":"g","t":2015.73,"v":0.493},{"s":"g","t":2015.83,"v":0.481},{"s":"g","t":2015.94,"v":0.470},{"s":"g","t":2016.01,"v":0.516},{"s":"g","t":2016.12,"v":0.528},{"s":"g","t":2016.21,"v":0.551},{"s":"g","t":2016.31,"v":0.516},{"s":"g","t":2016.42,"v":0.540},{"s":"g","t":2016.53,"v":0.563},{"s":"g","t":2016.63,"v":0.592},{"s":"g","t":2016.72,"v":0.540},{"s":"g","t":2016.83,"v":0.516},{"s":"g","t":2016.94,"v":0.493},{"s":"g","t":2017.04,"v":0.481},{"s":"g","t":2017.14,"v":0.458},{"s":"g","t":2017.25,"v":0.446},{"s":"g","t":2017.36,"v":0.458},{"s":"g","t":2017.45,"v":0.470},{"s":"g","t":2017.55,"v":0.458},{"s":"g","t":2017.66,"v":0.446},{"s":"g","t":2017.77,"v":0.435},{"s":"g","t":2017.87,"v":0.470},{"s":"g","t":2017.96,"v":0.516},{"s":"g","t":2018.05,"v":0.493},{"s":"g","t":2018.14,"v":0.458},{"s":"g","t":2018.24,"v":0.446},{"s":"g","t":2018.35,"v":0.470},{"s":"g","t":2018.46,"v":0.481},{"s":"g","t":2018.56,"v":0.458},{"s":"g","t":2018.65,"v":0.470},{"s":"g","t":2018.76,"v":0.481},{"s":"g","t":2018.87,"v":0.493},{"s":"g","t":2018.97,"v":0.470},{"s":"g","t":2019.07,"v":0.505},{"s":"g","t":2019.15,"v":0.516},{"s":"g","t":2019.25,"v":0.505},{"s":"g","t":2019.34,"v":0.528},{"s":"g","t":2019.45,"v":0.540},{"s":"g","t":2019.56,"v":0.575},{"s":"g","t":2019.66,"v":0.551},{"s":"g","t":2019.75,"v":0.528},{"s":"g","t":2019.87,"v":0.516},{"s":"g","t":2019.98,"v":0.505}
]},
"layer":[
{"mark":{"type":"line","strokeWidth":2,"strokeCap":"butt"},
 "encoding":{
  "x":{"field":"t","type":"quantitative","scale":{"domain":[1992,2020],"nice":false,"zero":false},
   "axis":{"orient":"bottom","title":null,"values":[1992,1994.5455,1997.0909,1999.6364,2002.1818,2004.7273,2007.2727,2009.8182,2012.3636,2014.9091,2017.4545,2020],"labelExpr":"'' + round(datum.value)","labelPadding":12}},
  "y":{"field":"v","type":"quantitative","scale":{"domain":[-0.4,1],"nice":false,"zero":false},
   "axis":{"orient":"left","values":[-0.4,-0.2,0,0.2,0.4,0.6,0.8,1],"labelExpr":"datum.value < -0.001 ? '-' + format(-datum.value, '.1~f') : format(datum.value, '.1~f')","labelPadding":8,"labelOffset":{"condition":{"test":"datum.value > 0.99","value":2},"value":0},"title":"∑ wₙ,ₜ","titleFont":"DejaVu Serif","titleFontSize":17,"titleFontWeight":"normal","titleColor":"#262626","titlePadding":5}},
  "color":{"field":"s","type":"nominal","scale":{"domain":["k","r","b","g"],"range":["#000000","#dd3333","#3535d0","#b4b4b4"]},
   "legend":{"labelExpr":"datum.value == 'k' ? 'Large, zero-out wₜₐₙ,ₜ below p₅₀ ESG in long-leg' : datum.value == 'r' ? 'Large, PFP optimal, missing ESG as −0.5, s̄ = 0' : datum.value == 'b' ? 'Large, PST optimal, missing ESG as −0.5, d = 0.001' : 'wₜₐₙ,ₜ'"}},
  "strokeDash":{"field":"s","type":"nominal","scale":{"domain":["k","r","b","g"],"range":[[1,0],[2,2.5],[7,2.5,2,2.5],[1,0]]},
   "legend":{"labelExpr":"datum.value == 'k' ? 'Large, zero-out wₜₐₙ,ₜ below p₅₀ ESG in long-leg' : datum.value == 'r' ? 'Large, PFP optimal, missing ESG as −0.5, s̄ = 0' : datum.value == 'b' ? 'Large, PST optimal, missing ESG as −0.5, d = 0.001' : 'wₜₐₙ,ₜ'"}}
 }},
{"mark":{"type":"line","opacity":0},
 "encoding":{
  "x":{"field":"t","type":"quantitative","axis":{"orient":"top","labels":false,"title":null,"values":[1992,1994.5455,1997.0909,1999.6364,2002.1818,2004.7273,2007.2727,2009.8182,2012.3636,2014.9091,2017.4545,2020]}},
  "y":{"field":"v","type":"quantitative","axis":{"orient":"right","labels":false,"title":null,"values":[-0.4,-0.2,0,0.2,0.4,0.6,0.8,1]}},
  "detail":{"field":"s","type":"nominal"}
 }}
],
"resolve":{"axis":{"x":"independent","y":"independent"}}
}
